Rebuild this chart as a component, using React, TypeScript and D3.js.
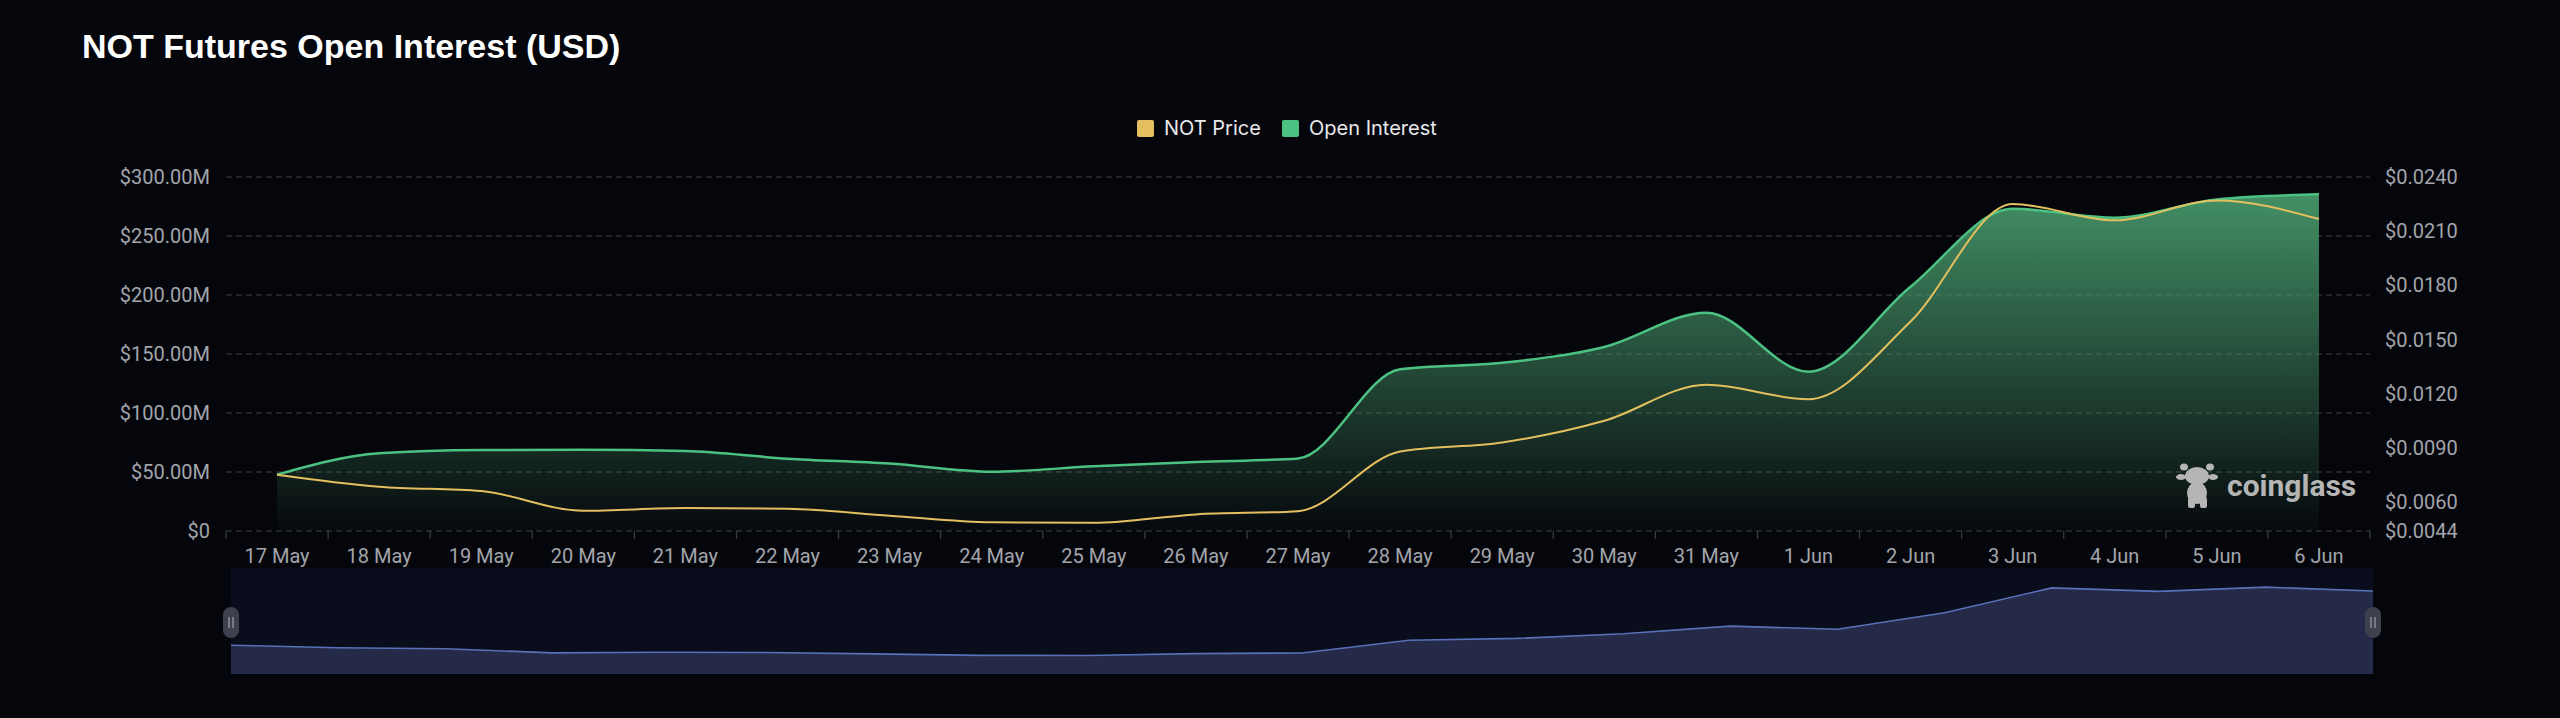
import * as d3 from 'd3';

// Daily categories on the x axis
const dates = [
  '17 May', '18 May', '19 May', '20 May', '21 May', '22 May', '23 May',
  '24 May', '25 May', '26 May', '27 May', '28 May', '29 May', '30 May',
  '31 May', '1 Jun', '2 Jun', '3 Jun', '4 Jun', '5 Jun', '6 Jun',
];

// Open interest, USD millions
const openInterest = [
  47.7, 65.8, 68.6, 68.9, 67.8, 61.3, 57.2, 50.3, 54.8, 58.5, 61.5,
  137, 142.5, 156, 185, 135, 207, 273, 265.5, 281, 285.3,
];

// NOT price, USD
const notPrice = [
  0.00752, 0.00685, 0.00661, 0.00552, 0.00567, 0.00563, 0.00525, 0.00488,
  0.00485, 0.00532, 0.0055, 0.0088, 0.0093, 0.0105, 0.0125, 0.0117, 0.016,
  0.0225, 0.0216, 0.0227, 0.02167,
];

const leftTicks = [0, 50, 100, 150, 200, 250, 300];
const rightTicks = [0.0044, 0.006, 0.009, 0.012, 0.015, 0.018, 0.021, 0.024];

const W = 2560;
const H = 718;
const plot = { left: 226, right: 2370, top: 177, bottom: 531 };
const slider = { left: 231, right: 2373, top: 568, bottom: 674 };

const BG = '#05060b';
const GREEN = '#4cc282';
const YELLOW = '#e3bf5f';
const LABEL = '#a2a5ab';
const GRID = '#2b2e35';
const AXIS_FONT = 'Roboto, "DejaVu Sans", sans-serif';

export default function App() {
  const x = d3.scaleBand<string>().domain(dates).range([plot.left, plot.right]);
  const cx = (d: string) => (x(d) ?? 0) + x.bandwidth() / 2;
  const yL = d3.scaleLinear().domain([0, 300]).range([plot.bottom, plot.top]);
  const yR = d3
    .scaleLinear()
    .domain([0.0044, 0.024])
    .range([plot.bottom, plot.top]);

  const oiPts = dates.map((d, i) => [cx(d), yL(openInterest[i])] as [number, number]);
  const pricePts = dates.map((d, i) => [cx(d), yR(notPrice[i])] as [number, number]);

  const oiLine = d3.line().curve(d3.curveMonotoneX)(oiPts) ?? '';
  const oiArea =
    d3
      .area()
      .curve(d3.curveMonotoneX)
      .y0(plot.bottom)(oiPts) ?? '';
  const priceLine = d3.line().curve(d3.curveMonotoneX)(pricePts) ?? '';

  // range slider preview (price series)
  const sx = d3.scalePoint<string>().domain(dates).range([slider.left, slider.right]);
  const sy = d3.scaleLinear().domain([0, 0.0277]).range([slider.bottom, slider.top]);
  const sPts = dates.map((d, i) => [sx(d) ?? 0, sy(notPrice[i])] as [number, number]);
  const sArea = d3.area().y0(slider.bottom)(sPts) ?? '';
  const sLine = d3.line()(sPts) ?? '';

  const gradTop = yL(d3.max(openInterest) ?? 300);
  const tickXs = [...dates.map((d) => x(d) ?? 0), plot.right];

  const handle = (hx: number) => (
    <g key={hx}>
      <rect x={hx - 8} y={607} width={16} height={31} rx={8} fill="#3d414e" />
      <line x1={hx - 2} x2={hx - 2} y1={617} y2={628} stroke="#9ea3ae" strokeWidth={1.2} />
      <line x1={hx + 2} x2={hx + 2} y1={617} y2={628} stroke="#9ea3ae" strokeWidth={1.2} />
    </g>
  );

  return (
    <div style={{ position: 'absolute', left: 0, top: 0, width: W, height: H, background: BG }}>
      <svg width={W} height={H} viewBox={`0 0 ${W} ${H}`}>
        <defs>
          <linearGradient
            id="oiFill"
            gradientUnits="userSpaceOnUse"
            x1={0}
            x2={0}
            y1={gradTop}
            y2={plot.bottom}
          >
            <stop offset="0%" stopColor="#438f65" stopOpacity={1} />
            <stop offset="100%" stopColor="#438f65" stopOpacity={0.02} />
          </linearGradient>
        </defs>
        <rect width={W} height={H} fill={BG} />

        {/* Title */}
        <text
          x={82}
          y={58}
          fill="#ffffff"
          fontFamily='"Liberation Sans", Arial, sans-serif'
          fontWeight={700}
          fontSize={34}
        >
          NOT Futures Open Interest (USD)
        </text>

        {/* Legend */}
        <g fontFamily='Inter, "Liberation Sans", sans-serif' fontSize={20} fill="#e8e9ec">
          <rect x={1137} y={120} width={17} height={17} rx={2} fill={YELLOW} />
          <text x={1164} y={135}>NOT Price</text>
          <rect x={1282} y={120} width={17} height={17} rx={2} fill={GREEN} />
          <text x={1309} y={135}>Open Interest</text>
        </g>

        {/* Grid */}
        {leftTicks.map((t) => (
          <line
            key={t}
            x1={plot.left}
            x2={plot.right}
            y1={yL(t)}
            y2={yL(t)}
            stroke={GRID}
            strokeWidth={1.3}
            strokeDasharray="6 4"
          />
        ))}

        {/* X ticks */}
        {tickXs.map((tx, i) => (
          <line key={i} x1={tx} x2={tx} y1={plot.bottom} y2={plot.bottom + 8} stroke="#383b42" strokeWidth={1.3} />
        ))}

        {/* Left axis labels */}
        <g fontFamily={AXIS_FONT} fontSize={20} fill={LABEL} textAnchor="end">
          {leftTicks.map((t) => (
            <text key={t} x={210} y={yL(t) + 7}>
              {t === 0 ? '$0' : `$${t.toFixed(2)}M`}
            </text>
          ))}
        </g>

        {/* Right axis labels */}
        <g fontFamily={AXIS_FONT} fontSize={20} fill={LABEL}>
          {rightTicks.map((t) => (
            <text key={t} x={2385} y={yR(t) + 7}>
              {`$${t.toFixed(4)}`}
            </text>
          ))}
        </g>

        {/* X labels */}
        <g fontFamily={AXIS_FONT} fontSize={20} fill={LABEL} textAnchor="middle">
          {dates.map((d) => (
            <text key={d} x={cx(d)} y={563}>
              {d}
            </text>
          ))}
        </g>

        {/* Series */}
        <path d={oiArea} fill="url(#oiFill)" />
        <path d={oiLine} fill="none" stroke={GREEN} strokeWidth={2.5} />
        <path d={priceLine} fill="none" stroke={YELLOW} strokeWidth={2} />

        {/* Watermark */}
        <g fill="#b5b5b5">
          <ellipse cx={2184} cy={467} rx={4} ry={3.5} />
          <ellipse cx={2210} cy={467} rx={4} ry={3.5} />
          <ellipse cx={2181} cy={477} rx={5} ry={3} />
          <ellipse cx={2213} cy={477} rx={5} ry={3} />
          <ellipse cx={2197} cy={476} rx={12} ry={9} />
          <ellipse cx={2197} cy={493} rx={10} ry={11} />
          <rect x={2188} y={497} width={7} height={11} rx={2} />
          <rect x={2200} y={497} width={7} height={11} rx={2} />
          <text x={2227} y={496} fontFamily={AXIS_FONT} fontWeight={700} fontSize={30}>
            coinglass
          </text>
        </g>

        {/* Range slider */}
        <rect
          x={slider.left}
          y={slider.top}
          width={slider.right - slider.left}
          height={slider.bottom - slider.top}
          fill="#090d1c"
        />
        <path d={sArea} fill="#242a47" />
        <path d={sLine} fill="none" stroke="#5871b8" strokeWidth={1.6} />
        {handle(slider.left)}
        {handle(slider.right)}
      </svg>
    </div>
  );
}
